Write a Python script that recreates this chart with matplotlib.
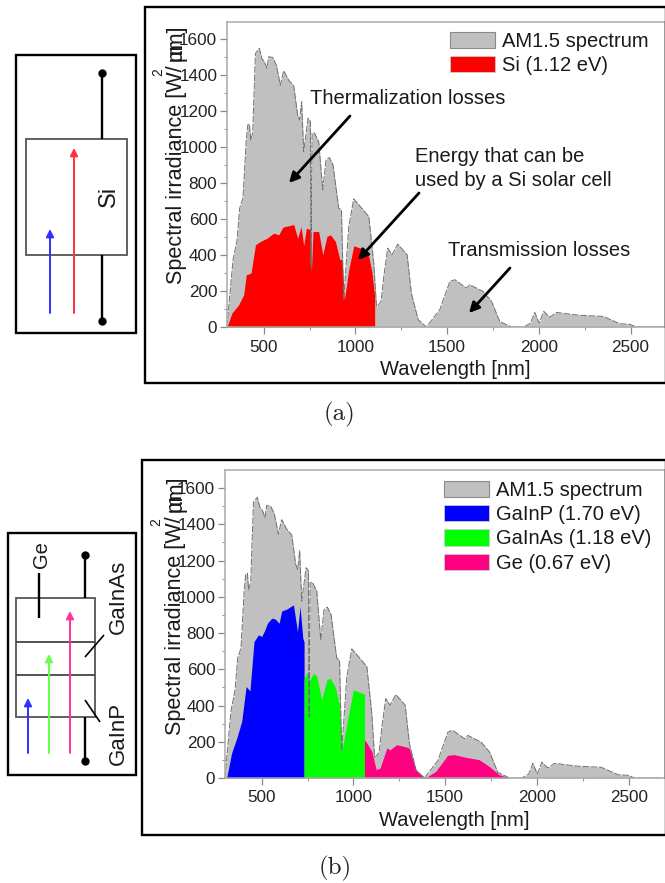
import matplotlib
matplotlib.use("Agg")
import matplotlib.pyplot as plt
from matplotlib.patches import Patch, Rectangle

W, H = 665, 883
plt.rcParams['font.family'] = ['Liberation Sans', 'DejaVu Sans']

# AM1.5 spectrum
wl = [300,309,333,355,369,387,405,413,422,429,440,455,476,490,504,518,527,549,569,591,609,636,664,685,696,707,718,742,755,758,764,776,800,822,840,858,878,909,924,936,964,991,1073,1100,1115,1127,1140,1155,1176,1200,1231,1282,1305,1342,1387,1460,1515,1542,1605,1624,1696,1742,1787,1851,1918,1955,1978,2002,2027,2060,2096,2224,2351,2442,2496,2533,2688]
am15 = [0,105,374,485,661,717,1040,1124,1130,1040,1078,1522,1550,1494,1476,1439,1504,1500,1457,1346,1426,1374,1341,1180,1152,1254,976,1161,1143,337,1078,1081,1031,763,930,943,902,661,652,152,559,713,615,356,115,124,143,281,439,402,461,402,189,41,0,96,254,263,217,235,198,143,31,0,0,22,81,22,87,55,81,65,59,18,15,0,0]

# Si
si_wl = [300,327,364,391,405,431,455,482,518,555,582,605,664,685,704,718,733,755,760,769,800,822,845,864,891,915,927,940,964,991,1045,1073,1091,1105,1105]
si_val = [0,78,124,180,291,300,457,476,494,522,513,556,570,494,559,452,550,541,309,531,531,402,504,513,476,374,378,152,319,452,433,393,300,170,0]

# GaInP
gainp_wl = [309,336,364,391,415,436,458,482,500,518,531,555,573,595,609,636,673,695,709,724,731,731]
gainp_val = [0,138,220,312,505,481,753,790,781,818,854,882,878,854,922,932,955,808,946,772,750,0]

# GaInAs
gainas_wl = [731,731,749,760,782,800,827,855,873,900,922,940,973,1000,1060,1060]
gainas_val = [0,542,588,533,579,561,432,542,551,505,413,165,349,487,463,0]

# Ge
ge_wl = [1060,1060,1073,1100,1124,1145,1182,1200,1236,1291,1304,1340,1391,1449,1513,1549,1613,1685,1740,1795,1849]
ge_val = [0,211,193,147,46,55,165,156,184,170,165,46,0,37,125,129,114,101,64,18,0]

x_ticks = [500, 1000, 1500, 2000, 2500]
y_ticks = [0, 200, 400, 600, 800, 1000, 1200, 1400, 1600]
x_label = "Wavelength [nm]"

GRAY, EDGE = '#c0c0c0', '#707070'
fig = plt.figure(figsize=(W/100, H/100), dpi=100, facecolor='white')

def panel(left, right, top, bottom, xmax, series, leg_xy):
    ax = fig.add_axes([left/W, 1-bottom/H, (right-left)/W, (bottom-top)/H])
    ax.fill_between(wl, am15, color=GRAY, lw=0)
    ax.plot(wl, am15, color=EDGE, lw=0.7, ls=(0, (7, 1.5)))
    handles = [Patch(fc=GRAY, ec='#8a8a8a', lw=0.8, label='AM1.5 spectrum')]
    for xs, ys, c, lab in series:
        ax.fill_between(xs, ys, color=c, lw=0)
        handles.append(Patch(fc=c, ec='#cccccc', lw=0.6, label=lab))
    ax.set_xlim(300, xmax)
    ax.set_ylim(0, 1700)
    ax.set_xticks(x_ticks)
    ax.set_xticks([750, 1250, 1750, 2250], minor=True)
    ax.set_yticks(y_ticks)
    ax.set_yticks(list(range(100, 1700, 200)), minor=True)
    ax.tick_params(which='major', length=5, width=0.9, color='#8a8a8a',
                   labelsize=12.3, labelcolor='#222222', pad=2)
    ax.tick_params(axis='x', which='major', pad=4)
    ax.tick_params(which='minor', length=2.5, width=0.8, color='#9a9a9a')
    for s in ax.spines.values():
        s.set_color('#aaaaaa')
        s.set_linewidth(1.1)
    ax.set_xlabel(x_label, fontsize=14.5, color='#1a1a1a', labelpad=4, x=0.52)
    ax.legend(handles=handles, loc='upper left', frameon=False,
              bbox_to_anchor=(leg_xy[0]/W, 1-leg_xy[1]/H), bbox_transform=fig.transFigure,
              fontsize=14.5, handlelength=2.22, handleheight=0.85, handletextpad=0.35,
              labelspacing=0.26, borderpad=0, borderaxespad=0, labelcolor='#1a1a1a')
    return ax

panel(227, 665, 21.5, 327, 2688,
      [(si_wl, si_val, '#ff0000', 'Si (1.12 eV)')], (450, 32))
panel(225, 665, 470, 778, 2698,
      [(gainp_wl, gainp_val, '#0000ff', 'GaInP (1.70 eV)'),
       (gainas_wl, gainas_val, '#00ff00', 'GaInAs (1.18 eV)'),
       (ge_wl, ge_val, '#ff0080', 'Ge (0.67 eV)')], (444, 481))

# overlay in pixel coordinates
ov = fig.add_axes([0, 0, 1, 1], facecolor='none')
ov.set_xlim(0, W); ov.set_ylim(H, 0); ov.axis('off')

def rect(x0, y0, x1, y1, lw=1.7, c='black'):
    ov.add_patch(Rectangle((x0, y0), x1-x0, y1-y0, fill=False, ec=c, lw=lw, clip_on=False))

def line(x0, y0, x1, y1, lw=1.7, c='black'):
    ov.plot([x0, x1], [y0, y1], color=c, lw=lw, solid_capstyle='butt')

def dot(x, y):
    ov.plot([x], [y], 'o', color='black', ms=6, mew=0)

def arrow(x0, y0, x1, y1, c, lw=1.4, ms=9):
    ov.annotate('', xy=(x1, y1), xytext=(x0, y0),
                arrowprops=dict(arrowstyle='-|>,head_width=0.25,head_length=0.5', color=c, lw=lw,
                                shrinkA=0, shrinkB=0, mutation_scale=ms))

def ylabel_at(x_base, y_bottom, y_mid):
    ov.text(x_base, y_bottom, 'Spectral irradiance [W/', rotation=90, fontsize=15.6, ha='left', va='baseline',
            rotation_mode='anchor', color='#1a1a1a')
    for s in ('m', 'µm]'):
        ov.text(x_base, y_mid, s, rotation=90, fontsize=15.6, ha='left', va='baseline',
                rotation_mode='anchor', color='#1a1a1a')

# Panel (a) frames
rect(145, 7, 666, 383)
rect(16, 55, 136, 333)
rect(26, 139, 127, 255, lw=1.3, c='#555555')
line(102.3, 73, 102.3, 139); line(102.3, 255, 102.3, 321)
dot(102.3, 73); dot(102.3, 321)
arrow(50, 313, 50, 229, '#3030ff')
arrow(74, 313, 74, 148, '#ff3040')
ov.text(109, 196, 'Si', rotation=90, fontsize=17, ha='center', va='center', color='#1a1a1a')
ylabel_at(182, 284, 61)
ov.text(158, 72, '2', rotation=90, fontsize=10, ha='center', va='center', color='#1a1a1a')

ov.text(310, 99, 'Thermalization losses', fontsize=14.5, va='center', color='#1a1a1a')
ov.text(415, 156, 'Energy that can be', fontsize=14.5, va='center', color='#1a1a1a')
ov.text(415, 180, 'used by a Si solar cell', fontsize=14.5, va='center', color='#1a1a1a')
ov.text(448, 251, 'Transmission losses', fontsize=14.5, va='center', color='#1a1a1a')
arrow(350, 116, 289, 183, 'black', lw=2.0, ms=12)
arrow(419, 193, 358, 260, 'black', lw=2.0, ms=12)
arrow(510, 268, 469, 313, 'black', lw=2.0, ms=12)
ov.text(340, 414, '(a)', family='cmr10', fontsize=18, ha='center', va='center', color='#222222')

# Panel (b) frames
rect(142, 460, 666, 835)
rect(8, 533, 136, 775)
rect(16, 598, 95, 717, lw=1.3, c='#555555')
line(16, 642, 95, 642, lw=1.3, c='#444444'); line(16, 675, 95, 675, lw=1.3, c='#444444')
line(85, 555, 85, 598); line(85, 717, 85, 761)
dot(85, 555); dot(85, 761)
line(39, 573, 39, 618)
line(104, 635, 85, 657, lw=1.2); line(85, 700, 100, 722, lw=1.2)
arrow(28, 753, 28, 698, '#3030ff')
arrow(49, 753, 49, 654, '#66ff44')
arrow(70, 753, 70, 611, '#ff3399')
ov.text(42, 555, 'Ge', rotation=90, fontsize=14.5, ha='center', va='center', color='#1a1a1a')
ov.text(118, 597, 'GaInAs', rotation=90, fontsize=16, ha='center', va='center', color='#1a1a1a')
ov.text(118, 733, 'GaInP', rotation=90, fontsize=16, ha='center', va='center', color='#1a1a1a')
ylabel_at(181, 735, 512)
ov.text(156, 522, '2', rotation=90, fontsize=10, ha='center', va='center', color='#1a1a1a')
ov.text(335, 868, '(b)', family='cmr10', fontsize=18, ha='center', va='center', color='#222222')

fig.savefig('out.png', dpi=100)
